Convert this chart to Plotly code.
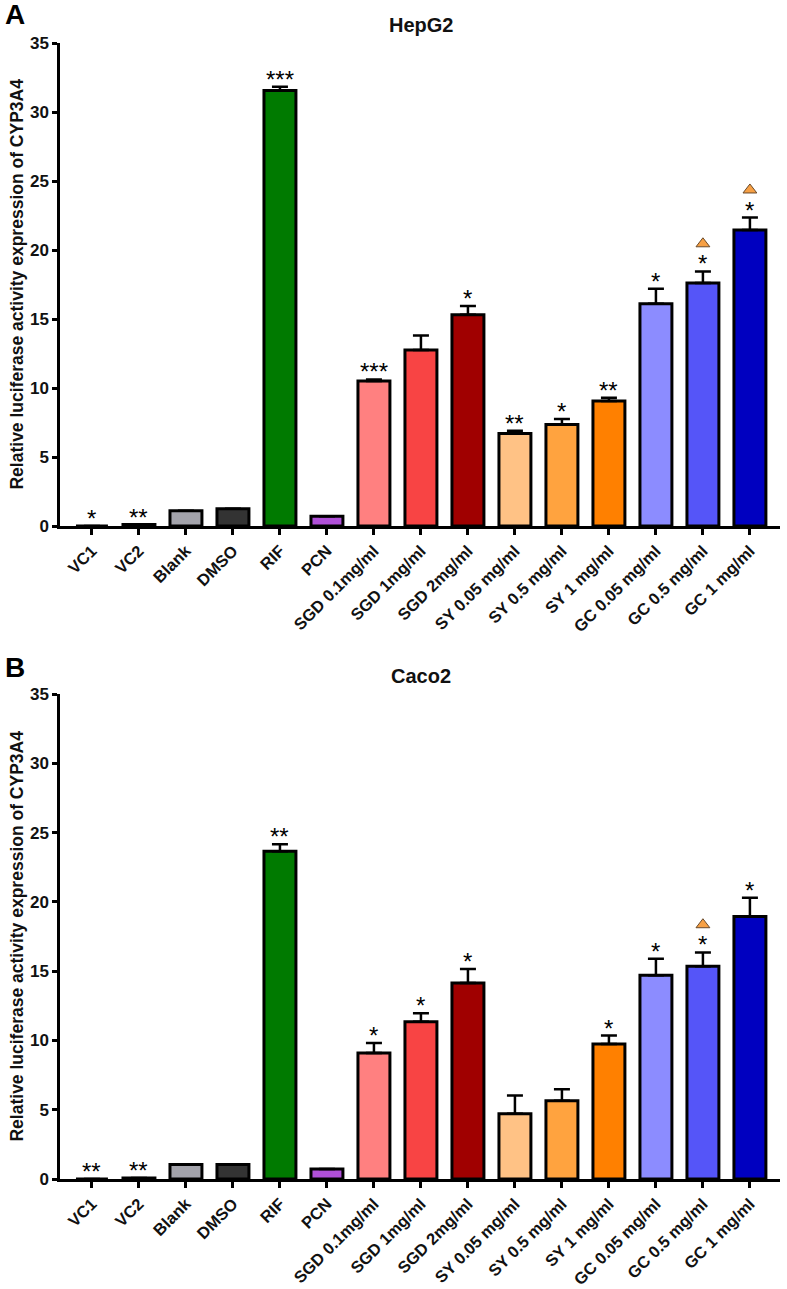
import plotly.graph_objects as go
from plotly.subplots import make_subplots

groups = ['VC1', 'VC2', 'Blank', 'DMSO', 'RIF', 'PCN',
          'SGD 0.1mg/ml', 'SGD 1mg/ml', 'SGD 2mg/ml',
          'SY 0.05 mg/ml', 'SY 0.5 mg/ml', 'SY 1 mg/ml',
          'GC 0.05 mg/ml', 'GC 0.5 mg/ml', 'GC 1 mg/ml']
bar_colors = ['#FFFFFF', '#FFFFFF', '#A3A3AB', '#333333', '#007A00', '#B050D8',
              '#FF8080', '#F84444', '#A00000',
              '#FFC285', '#FFA33F', '#FF8000',
              '#8C8CFF', '#5555F8', '#0000C0']

hepg2_mean = [0.0, 0.1, 1.1, 1.25, 31.55, 0.7, 10.5, 12.75, 15.3, 6.7, 7.35, 9.05, 16.1, 17.6, 21.45]
hepg2_err = [0.0, 0.0, 0.0, 0.0, 0.28, 0.0, 0.12, 1.05, 0.65, 0.2, 0.4, 0.25, 1.1, 0.85, 0.9]
hepg2_stars = ['*', '**', '', '', '***', '', '***', '', '*', '**', '*', '**', '*', '*', '*']
hepg2_tri = [False] * 13 + [True, True]

caco2_mean = [0.0, 0.08, 1.05, 1.05, 23.65, 0.72, 9.1, 11.35, 14.15, 4.7, 5.65, 9.75, 14.7, 15.35, 18.95]
caco2_err = [0.0, 0.0, 0.0, 0.0, 0.5, 0.0, 0.72, 0.62, 1.0, 1.33, 0.82, 0.6, 1.2, 1.0, 1.35]
caco2_stars = ['**', '**', '', '', '**', '', '*', '*', '*', '', '', '*', '*', '*', '*']
caco2_tri = [False] * 13 + [True, False]

FONT = 'Liberation Sans, Arial, sans-serif'

fig = make_subplots(rows=2, cols=1, vertical_spacing=0.05)

panels = [(hepg2_mean, hepg2_err, hepg2_stars, hepg2_tri),
          (caco2_mean, caco2_err, caco2_stars, caco2_tri)]

for row, (mean, err, stars, tri) in enumerate(panels, start=1):
    fig.add_trace(go.Bar(
        x=groups, y=mean, width=0.68,
        marker=dict(color=bar_colors, line=dict(color='black', width=3)),
        error_y=dict(type='data', symmetric=False, array=err,
                     arrayminus=[0] * len(err), color='black',
                     thickness=2.5, width=8),
        showlegend=False), row=row, col=1)
    tx = [g for g, t in zip(groups, tri) if t]
    ty = [m + e + 2.0 for m, e, t in zip(mean, err, tri) if t]
    fig.add_trace(go.Scatter(
        x=tx, y=ty, mode='markers',
        marker=dict(symbol='triangle-up', size=12, color='#F7A044',
                    line=dict(color='#6A4A2A', width=1)),
        showlegend=False), row=row, col=1)
    xref = 'x' if row == 1 else 'x2'
    yref = 'y' if row == 1 else 'y2'
    for g, m, e, s in zip(groups, mean, err, stars):
        if s:
            fig.add_annotation(x=g, y=m + e, xref=xref, yref=yref, text=s,
                               showarrow=False, yanchor='bottom', yshift=-8,
                               font=dict(family=FONT, size=24, color='black'))

H = 1289
top_dom = [1 - 526 / H, 1 - 43 / H]
bot_dom = [1 - 1179 / H, 1 - 694 / H]

axis_common = dict(showline=True, linecolor='black', linewidth=2.5,
                   ticks='outside', tickcolor='black', tickwidth=2.5,
                   showgrid=False, zeroline=False, automargin=False)

for xa in ['xaxis', 'xaxis2']:
    fig.layout[xa].update(range=[-0.68, 14.64], ticklen=6, tickangle=-45,
                          tickfont=dict(family=FONT, size=16.5, color='#111111', weight='bold'),
                          domain=[0, 1], **axis_common)
for ya, dom in [('yaxis', top_dom), ('yaxis2', bot_dom)]:
    fig.layout[ya].update(range=[0, 35], dtick=5, ticklen=5, domain=dom,
                          tickfont=dict(family=FONT, size=17, color='#111111', weight='bold'),
                          **axis_common)

ytitle = 'Relative luciferase activity expression of CYP3A4'
for dom, name, letter, ly in [(top_dom, 'HepG2', 'A', 1 - 15 / H),
                              (bot_dom, 'Caco2', 'B', 1 - 667 / H)]:
    fig.add_annotation(x=-0.0597, y=(dom[0] + dom[1]) / 2, xref='paper', yref='paper',
                       text=ytitle, textangle=-90, showarrow=False,
                       xanchor='center', yanchor='middle',
                       font=dict(family=FONT, size=17.5, color='#111111', weight='bold'))
    fig.add_annotation(x=(421 - 60) / 720, y=dom[1] + 18 / H, xref='paper', yref='paper',
                       text=name, showarrow=False, xanchor='center', yanchor='middle',
                       font=dict(family=FONT, size=20, color='#111111', weight='bold'))
    fig.add_annotation(x=(15 - 60) / 720, y=ly, xref='paper', yref='paper',
                       text=letter, showarrow=False, xanchor='center', yanchor='middle',
                       font=dict(family=FONT, size=28, color='black', weight='bold'))

fig.update_layout(width=787, height=1289, plot_bgcolor='white', paper_bgcolor='white',
                  margin=dict(l=60, r=7, t=0, b=0), bargap=0.3)

fig.write_html('out.html', config={'displayModeBar': False},
               post_script="document.body.style.margin='0';")
